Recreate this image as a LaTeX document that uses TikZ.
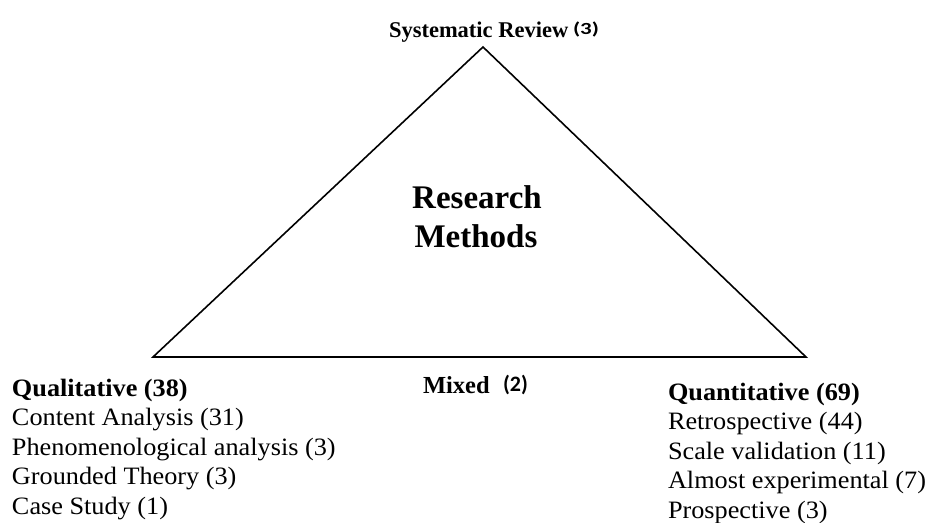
\documentclass[tikz,border=0pt]{standalone}
\usepackage{fontspec}
\setmainfont{Liberation Serif}
\newfontfamily\serifw[FakeStretch=1.05]{Liberation Serif}
\newfontfamily\calib{Carlito}
\newfontfamily\calibw[FakeStretch=1.35]{Carlito}
\begin{document}
\begin{tikzpicture}[x=1pt,y=-1pt,
  tri/.style={line width=1.6pt, line join=miter},
  txt/.style={anchor=base west, inner sep=0pt, outer sep=0pt},
  small/.style={txt, font=\serifw\fontsize{25}{29}\selectfont},
  smallb/.style={txt, font=\serifw\bfseries\fontsize{25}{29}\selectfont},
  title/.style={anchor=base, inner sep=0pt, font=\bfseries\fontsize{33}{39}\selectfont}
]
\useasboundingbox[fill=white] (0,0) rectangle (928,522);
\coordinate (apex) at (483,47);
\coordinate (left) at (153,357);
\coordinate (right) at (806,357);
\draw[tri] (apex) -- (left) -- (right) -- cycle;

\node[txt, font=\bfseries\fontsize{22.5}{26}\selectfont] (sr) at (389,37) {Systematic Review};
\node[txt, font=\calibw\bfseries\fontsize{17}{20}\selectfont] (sr3) at (573,34) {(3)};

\node[title] (rm1) at (477,208) {Research};
\node[title] (rm2) at (476,247) {Methods};

\node[txt, font=\bfseries\fontsize{24.5}{28}\selectfont] (mx) at (423,393) {Mixed};
\node[txt, font=\calib\bfseries\fontsize{22}{26}\selectfont] (mx2) at (503,391) {(2)};

\node[smallb] (ql) at (12,396) {Qualitative (38)};
\node[small] (ql1) at (12,425.5) {Content Analysis (31)};
\node[small] (ql2) at (12,455) {Phenomenological analysis (3)};
\node[small] (ql3) at (12,484.5) {Grounded Theory (3)};
\node[small] (ql4) at (12,514) {Case Study (1)};

\node[smallb] (qn) at (668,400) {Quantitative (69)};
\node[small] (qn1) at (668,429.5) {Retrospective (44)};
\node[small] (qn2) at (668,459) {Scale validation (11)};
\node[small] (qn3) at (668,488.5) {Almost experimental (7)};
\node[small] (qn4) at (668,518) {Prospective (3)};
\end{tikzpicture}
\end{document}
